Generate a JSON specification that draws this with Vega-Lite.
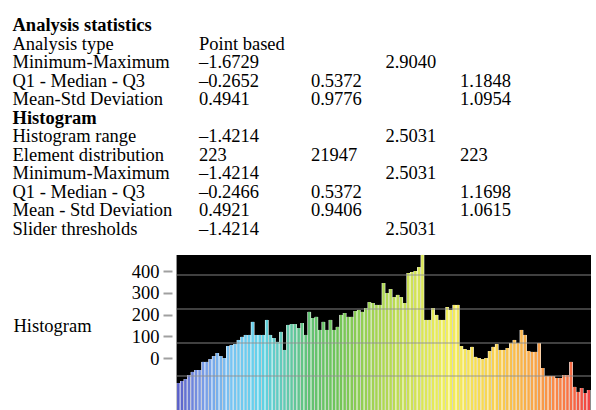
{
  "$schema": "https://vega.github.io/schema/vega-lite/v6.json",
  "width": 596,
  "height": 410,
  "autosize": {"type": "fit", "contains": "padding"},
  "padding": 0,
  "background": "white",
  "config": {
    "view": {"stroke": null},
    "font": "Liberation Serif",
    "axisY": {
      "offset": -172,
      "domain": false, "grid": false,
      "tickSize": 9, "tickColor": "#a0a0a0", "tickWidth": 2,
      "labelFont": "Liberation Serif", "labelFontSize": 18.5, "labelColor": "black",
      "labelPadding": 4, "labelOverlap": false, "labelBound": false,
      "titleFont": "Liberation Serif", "titleFontSize": 18.5, "titleFontWeight": "normal",
      "titleColor": "black", "titleAngle": 0, "titleAlign": "left", "titleBaseline": "middle",
      "titleX": -159, "titleY": 325
    }
  },
  "datasets": {
    "bars": [
      {"i":1,"count":-115},{"i":2,"count":-106},{"i":3,"count":-97},{"i":4,"count":-78},{"i":5,"count":-64},
      {"i":6,"count":-55},{"i":7,"count":-55},{"i":8,"count":-18},{"i":9,"count":-18},{"i":10,"count":-5},
      {"i":11,"count":9},{"i":12,"count":23},{"i":13,"count":9},{"i":14,"count":0},{"i":15,"count":55},
      {"i":16,"count":60},{"i":17,"count":64},{"i":18,"count":83},{"i":19,"count":97},{"i":20,"count":106},
      {"i":21,"count":106},{"i":22,"count":166},{"i":23,"count":106},{"i":24,"count":106},{"i":25,"count":106},
      {"i":26,"count":175},{"i":27,"count":106},{"i":28,"count":92},{"i":29,"count":74},{"i":30,"count":120},
      {"i":31,"count":37},{"i":32,"count":152},{"i":33,"count":156},{"i":34,"count":156},{"i":35,"count":138},
      {"i":36,"count":161},{"i":37,"count":106},{"i":38,"count":212},{"i":39,"count":184},{"i":40,"count":189},
      {"i":41,"count":129},{"i":42,"count":166},{"i":43,"count":129},{"i":44,"count":175},{"i":45,"count":129},
      {"i":46,"count":143},{"i":47,"count":198},{"i":48,"count":207},{"i":49,"count":189},{"i":50,"count":189},
      {"i":51,"count":216},{"i":52,"count":221},{"i":53,"count":212},{"i":54,"count":230},{"i":55,"count":257},
      {"i":56,"count":253},{"i":57,"count":244},{"i":58,"count":244},{"i":59,"count":345},{"i":60,"count":299},
      {"i":61,"count":317},{"i":62,"count":280},{"i":63,"count":290},{"i":64,"count":280},{"i":65,"count":253},
      {"i":66,"count":391},{"i":67,"count":395},{"i":68,"count":400},{"i":69,"count":418},{"i":70,"count":474},
      {"i":71,"count":175},{"i":72,"count":175},{"i":73,"count":230},{"i":74,"count":198},{"i":75,"count":175},
      {"i":76,"count":175},{"i":77,"count":234},{"i":78,"count":221},{"i":79,"count":244},{"i":80,"count":244},
      {"i":81,"count":55},{"i":82,"count":41},{"i":83,"count":37},{"i":84,"count":51},{"i":85,"count":5},
      {"i":86,"count":0},{"i":87,"count":-5},{"i":88,"count":0},{"i":89,"count":32},{"i":90,"count":51},
      {"i":91,"count":64},{"i":92,"count":37},{"i":93,"count":37},{"i":94,"count":46},{"i":95,"count":69},
      {"i":96,"count":83},{"i":97,"count":69},{"i":98,"count":129},{"i":99,"count":106},{"i":100,"count":32},
      {"i":101,"count":28},{"i":102,"count":28},{"i":103,"count":69},{"i":104,"count":-46},{"i":105,"count":-83},
      {"i":106,"count":-83},{"i":107,"count":-83},{"i":108,"count":-92},{"i":109,"count":-92},{"i":110,"count":-78},
      {"i":111,"count":-78},{"i":112,"count":-18},{"i":113,"count":-133},{"i":114,"count":-156},{"i":115,"count":-138},
      {"i":116,"count":-161},{"i":117,"count":-147}
    ],
    "grid": [{"g": -83}, {"g": 69}, {"g": 225}, {"g": 382}],
    "table": [
      {"row":1,"tab":-5,"label":"Analysis statistics","bold":1},
      {"row":2,"tab":-5,"label":"Analysis type","bold":0},
      {"row":2,"tab":0,"label":"Point based","bold":0},
      {"row":3,"tab":-5,"label":"Minimum-Maximum","bold":0},
      {"row":3,"tab":0,"label":"–1.6729","bold":0},
      {"row":3,"tab":5,"label":"2.9040","bold":0},
      {"row":4,"tab":-5,"label":"Q1 - Median - Q3","bold":0},
      {"row":4,"tab":0,"label":"–0.2652","bold":0},
      {"row":4,"tab":3,"label":"0.5372","bold":0},
      {"row":4,"tab":7,"label":"1.1848","bold":0},
      {"row":5,"tab":-5,"label":"Mean-Std Deviation","bold":0},
      {"row":5,"tab":0,"label":"0.4941","bold":0},
      {"row":5,"tab":3,"label":"0.9776","bold":0},
      {"row":5,"tab":7,"label":"1.0954","bold":0},
      {"row":6,"tab":-5,"label":"Histogram","bold":1},
      {"row":7,"tab":-5,"label":"Histogram range","bold":0},
      {"row":7,"tab":0,"label":"–1.4214","bold":0},
      {"row":7,"tab":5,"label":"2.5031","bold":0},
      {"row":8,"tab":-5,"label":"Element distribution","bold":0},
      {"row":8,"tab":0,"label":"223","bold":0},
      {"row":8,"tab":3,"label":"21947","bold":0},
      {"row":8,"tab":7,"label":"223","bold":0},
      {"row":9,"tab":-5,"label":"Minimum-Maximum","bold":0},
      {"row":9,"tab":0,"label":"–1.4214","bold":0},
      {"row":9,"tab":5,"label":"2.5031","bold":0},
      {"row":10,"tab":-5,"label":"Q1 - Median - Q3","bold":0},
      {"row":10,"tab":0,"label":"–0.2466","bold":0},
      {"row":10,"tab":3,"label":"0.5372","bold":0},
      {"row":10,"tab":7,"label":"1.1698","bold":0},
      {"row":11,"tab":-5,"label":"Mean - Std Deviation","bold":0},
      {"row":11,"tab":0,"label":"0.4921","bold":0},
      {"row":11,"tab":3,"label":"0.9406","bold":0},
      {"row":11,"tab":7,"label":"1.0615","bold":0},
      {"row":12,"tab":-5,"label":"Slider thresholds","bold":0},
      {"row":12,"tab":0,"label":"–1.4214","bold":0},
      {"row":12,"tab":5,"label":"2.5031","bold":0}
    ]
  },
  "layer": [
    {
      "layer": [
        {
          "data": {"values": [{}]},
          "mark": {"type": "rect", "color": "black"},
          "encoding": {
            "x": {"datum": 0.5, "type": "quantitative", "scale": {"domain": [-48, 117.65], "nice": false, "zero": false}, "axis": null},
            "x2": {"datum": 117.65},
            "y": {
              "datum": -239, "type": "quantitative",
              "scale": {"domain": [-239, 1646], "nice": false, "zero": false},
              "axis": {"values": [0, 100, 200, 300, 400], "title": "Histogram"}
            },
            "y2": {"datum": 474}
          }
        },
        {
          "data": {"name": "bars"},
          "mark": {"type": "bar", "color": "white", "size": 3.7},
          "encoding": {
            "x": {"field": "i", "type": "quantitative", "axis": null},
            "y": {"field": "count", "type": "quantitative", "axis": {"values": [0, 100, 200, 300, 400], "title": "Histogram"}},
            "y2": {"datum": -239}
          }
        },
        {
          "data": {"name": "bars"},
          "mark": {"type": "bar", "size": 2.6},
          "encoding": {
            "x": {"field": "i", "type": "quantitative", "axis": null},
            "y": {"field": "count", "type": "quantitative", "axis": {"values": [0, 100, 200, 300, 400], "title": "Histogram"}},
            "y2": {"datum": -239},
            "color": {
              "field": "i", "type": "quantitative", "legend": null,
              "scale": {
                "domain": [1, 7, 16, 24, 31, 38, 46, 57, 68, 77, 91, 102, 110, 117],
                "range": ["#5a60c8", "#7896e4", "#78c4f2", "#62d2ea", "#62cab4", "#62c274", "#70c458", "#a6d452", "#d2e256", "#f2f05c", "#f8d050", "#f8a448", "#f87c46", "#f04444"],
                "interpolate": "rgb"
              }
            }
          }
        },
        {
          "data": {"name": "grid"},
          "mark": {"type": "rule", "color": "#909090", "strokeWidth": 1.5, "opacity": 0.6},
          "encoding": {
            "y": {"field": "g", "type": "quantitative", "axis": {"values": [0, 100, 200, 300, 400], "title": "Histogram"}},
            "x": {"datum": 0.5, "type": "quantitative", "axis": null},
            "x2": {"datum": 117.65}
          }
        }
      ]
    },
    {
      "data": {"name": "table"},
      "encoding": {
        "x": {"field": "tab", "type": "quantitative", "scale": {"domain": [-5.335, 10.644], "nice": false, "zero": false}, "axis": null},
        "y": {"field": "row", "type": "quantitative", "scale": {"domain": [-0.348, 21.755], "reverse": true, "nice": false, "zero": false}, "axis": null},
        "text": {"field": "label"}
      },
      "layer": [
        {
          "transform": [{"filter": "datum.bold == 0"}],
          "mark": {"type": "text", "align": "left", "baseline": "middle", "fontSize": 18.5, "font": "Liberation Serif", "color": "black"}
        },
        {
          "transform": [{"filter": "datum.bold == 1"}],
          "mark": {"type": "text", "align": "left", "baseline": "middle", "fontSize": 18.5, "font": "Liberation Serif", "fontWeight": "bold", "color": "black"}
        }
      ]
    }
  ],
  "resolve": {"scale": {"x": "independent", "y": "independent"}}
}
